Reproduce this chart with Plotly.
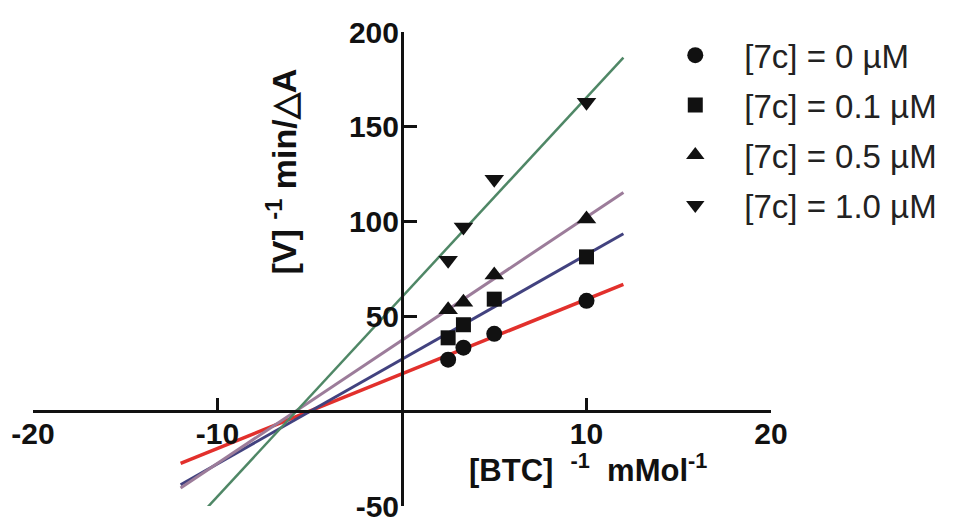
import plotly.graph_objects as go

# ---- data ----
x_btc = [2.5, 3.33, 5.0, 10.0]
y_0uM = [27.2, 33.5, 40.8, 58.2]
y_01uM = [38.7, 45.6, 59.1, 81.4]
y_05uM = [53.5, 57.5, 71.8, 101.4]
y_1uM = [79.6, 97.1, 122.3, 163.0]

fit_x = [-12, 12]
fit_0uM = [-27.5, 66.9]
fit_01uM = [-38.8, 93.6]
fit_05uM = [-40.5, 115.4]
fit_1uM = [-66.0, 186.5]

labels = ["[7c] = 0 µM", "[7c] = 0.1 µM", "[7c] = 0.5 µM", "[7c] = 1.0 µM"]
x_ticks = [-20, -10, 10, 20]
y_ticks = [-50, 50, 100, 150, 200]

series_y = [y_0uM, y_01uM, y_05uM, y_1uM]
fits = [fit_0uM, fit_01uM, fit_05uM, fit_1uM]
line_colors = ["#e2302c", "#42427f", "#9c7c9a", "#4f8766"]
line_widths = [3.5, 3, 3, 2.5]
symbols = ["circle", "square", "triangle-up", "triangle-down"]
sizes = [16, 15, 17, 17]

FONT = "Liberation Sans, Arial, Helvetica, sans-serif"

fig = go.Figure()
for i in range(4):
    fig.add_trace(go.Scatter(
        x=fit_x, y=fits[i], mode="lines",
        line=dict(color=line_colors[i], width=line_widths[i]),
        showlegend=False, hoverinfo="skip"))
for i in range(4):
    fig.add_trace(go.Scatter(
        x=x_btc, y=series_y[i], mode="markers", name=labels[i],
        legendgroup=f"g{i}",
        marker=dict(symbol=symbols[i], size=sizes[i], color="#111111",
                    line=dict(width=0))))

axis_common = dict(
    showgrid=False, zeroline=False, showline=True, linewidth=3,
    linecolor="#111111", ticks="inside", tickwidth=3, tickcolor="#111111",
    tickfont=dict(family=FONT, size=30, color="#111111", weight="bold"),
    anchor="free", automargin=False, ticklabeloverflow="allow",
)

fig.update_layout(
    width=946, height=515,
    margin=dict(l=25, r=183, t=24, b=17),
    paper_bgcolor="white", plot_bgcolor="white",
    xaxis=dict(range=[-20, 20], tickvals=x_ticks, ticktext=[str(v) for v in x_ticks],
               position=0.2, ticklen=12, ticklabelstandoff=-5, **axis_common),
    yaxis=dict(range=[-50, 200], tickvals=y_ticks, ticktext=[str(v) for v in y_ticks],
               position=0.5, ticklen=13, ticklabelstandoff=-4, **axis_common),
    legend=dict(x=0.831, y=1.01, xanchor="left", yanchor="top",
                font=dict(family=FONT, size=33, color="#222222"),
                itemwidth=88, tracegroupgap=4, bgcolor="rgba(0,0,0,0)"),
    annotations=[
        dict(text="[BTC]\u00a0\u00a0<sup>-1</sup>\u00a0\u00a0mMol<sup>-1</sup>",
             x=0.752, y=0.08, xanchor="center", yanchor="middle",
             xref="paper", yref="paper", showarrow=False,
             font=dict(family=FONT, size=31, color="#111111", weight="bold")),
        dict(text="[V]\u00a0<sup>-1</sup>\u00a0min/△A", x=0.337, y=0.705,
             xanchor="center", yanchor="middle",
             xref="paper", yref="paper", showarrow=False, textangle=-90,
             font=dict(family=FONT, size=34, color="#111111", weight="bold")),
    ],
)

fig.write_html("out.html")
